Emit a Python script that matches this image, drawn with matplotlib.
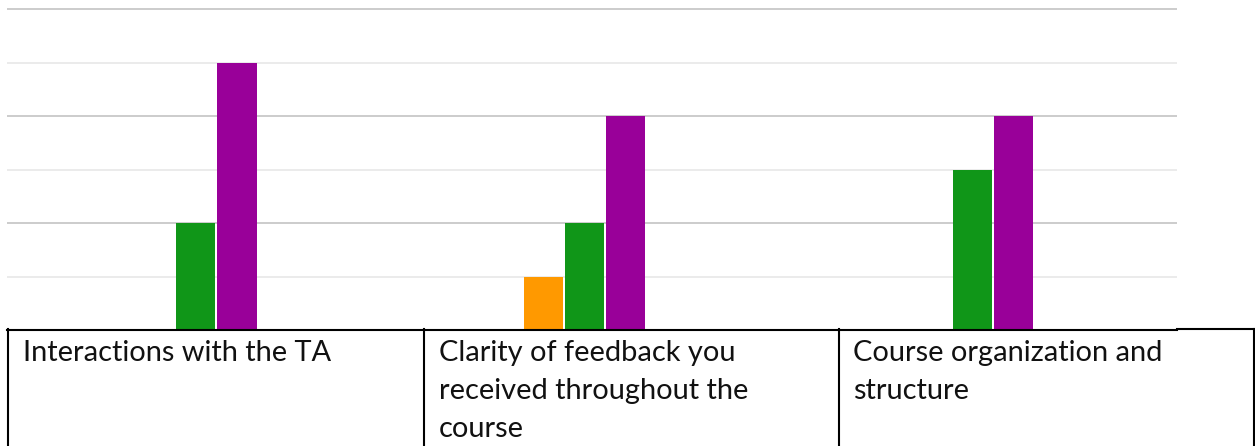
import matplotlib
matplotlib.use("Agg")
import matplotlib.pyplot as plt
from matplotlib.lines import Line2D
import numpy as np

categories = ["Interactions with the TA",
              "Clarity of feedback you\nreceived throughout the\ncourse",
              "Course organization and\nstructure"]
series_names = ["Neutral", "Agree", "Strongly agree"]
orange_vals = [0, 1, 0]
green_vals = [2, 2, 3]
purple_vals = [5, 4, 4]
colors = ["#FF9900", "#109618", "#990099"]

W, H = 1255, 446
fig = plt.figure(figsize=(W / 100, H / 100), dpi=100)

def fx(px):
    return px / W

def fy(py):
    return 1 - py / H

ax_left, ax_right, ax_top, ax_bot = 7, 1177, 5, 330
ax = fig.add_axes([fx(ax_left), fy(ax_bot), fx(ax_right - ax_left), (ax_bot - ax_top) / H])
ppu = (330 - 9) / 6.0
ax.set_ylim(0, (ax_bot - ax_top) / ppu)
gstep = 388.0
ax.set_xlim(-(196 - ax_left) / gstep, (ax_right - 196) / gstep)

for v in [1, 3, 5]:
    ax.axhline(v, color="#ebebeb", lw=1.4, zorder=0)
for v in [2, 4, 6]:
    ax.axhline(v, color="#cccccc", lw=1.4, zorder=0)

x = np.arange(len(categories))
bw = 39 / gstep
step = 41 / gstep
for i, (vals, c) in enumerate(zip([orange_vals, green_vals, purple_vals], colors)):
    ax.bar(x + (i - 1) * step, vals, width=bw, color=c, zorder=2, linewidth=0)

ax.axis("off")

# table lines
lw = 1.5
fig.add_artist(Line2D([fx(7), fx(1177)], [fy(330), fy(330)], color="black", lw=lw))
fig.add_artist(Line2D([fx(1177), fx(1254)], [fy(329), fy(329)], color="black", lw=lw))
for vx in [7.5, 423.5, 838.5, 1253.5]:
    fig.add_artist(Line2D([fx(vx), fx(vx)], [fy(329), fy(446)], color="black", lw=lw))

# text
fam = ["Lato", "DejaVu Sans"]
col_x = [23, 439, 853]
base0 = 361
lh = 38
target_w = 310
probe = fig.text(0, 0, "Interactions with the TA", fontsize=20, family=fam)
fig.canvas.draw()
wpx = probe.get_window_extent().width
probe.remove()
fs = 20 * target_w / wpx
for cx, label in zip(col_x, categories):
    for j, line in enumerate(label.split("\n")):
        fig.text(fx(cx), fy(base0 + j * lh), line, fontsize=fs, family=fam,
                 va="baseline", ha="left", color="#111111")

fig.savefig("out.png", dpi=100)
